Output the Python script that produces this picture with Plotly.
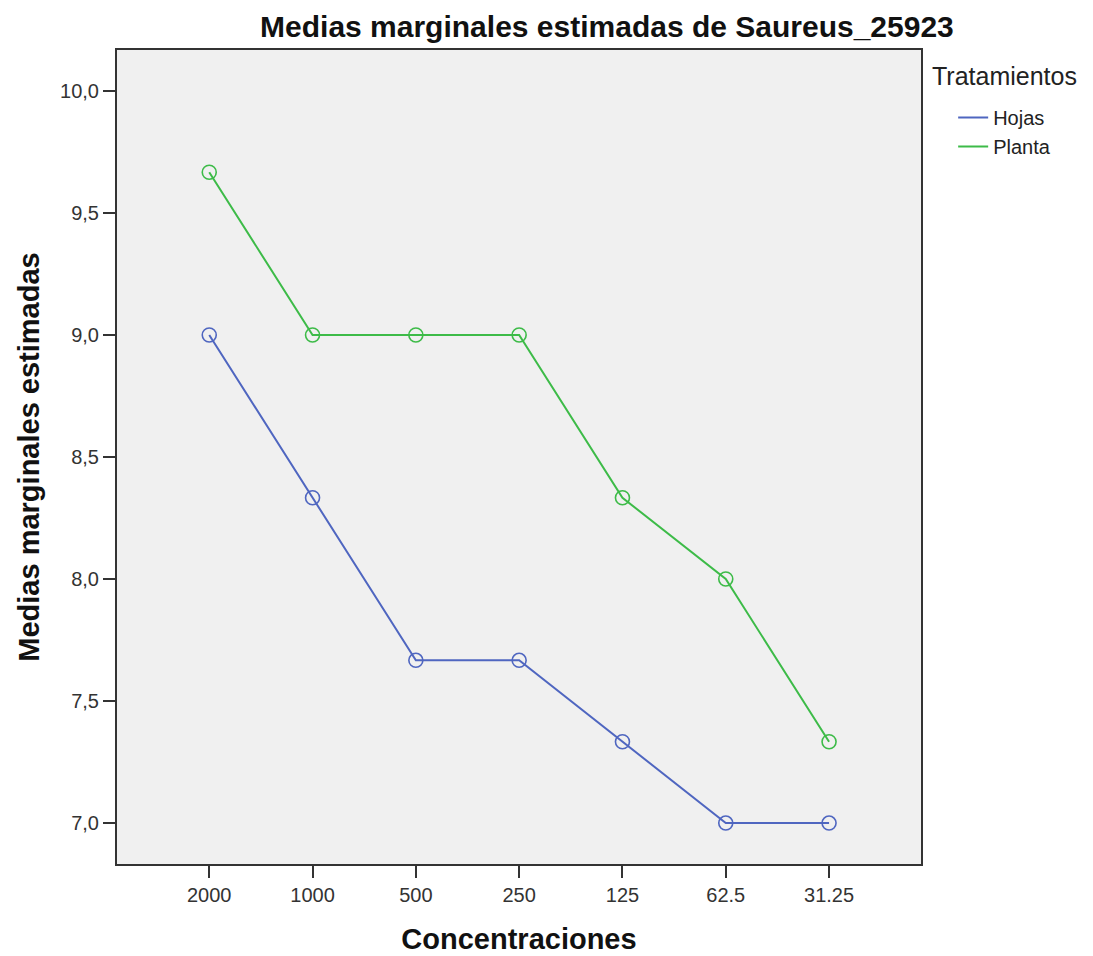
import plotly.graph_objects as go

# Datos
concentraciones = ["2000", "1000", "500", "250", "125", "62.5", "31.25"]
hojas = [9.0, 8.333, 7.667, 7.667, 7.333, 7.0, 7.0]
planta = [9.667, 9.0, 9.0, 9.0, 8.333, 8.0, 7.333]
y_ticks = [7.0, 7.5, 8.0, 8.5, 9.0, 9.5, 10.0]
y_tick_text = ["7,0", "7,5", "8,0", "8,5", "9,0", "9,5", "10,0"]

AZUL = '#4f66c0'
VERDE = '#3dbb48'
FUENTE = 'Liberation Sans, Arial, sans-serif'


def agregar_serie(fig, y, nombre, color):
    """Línea (con leyenda) + círculos abiertos (sin leyenda)"""
    x = list(range(len(concentraciones)))
    fig.add_trace(go.Scatter(
        x=x, y=y, name=nombre, mode='lines',
        line=dict(color=color, width=2),
    ))
    fig.add_trace(go.Scatter(
        x=x, y=y, name=nombre, mode='markers', showlegend=False,
        marker=dict(symbol='circle-open', size=14, color=color, line=dict(width=1.6)),
    ))


fig = go.Figure()
agregar_serie(fig, hojas, 'Hojas', AZUL)
agregar_serie(fig, planta, 'Planta', VERDE)

fig.add_annotation(
    text='Tratamientos', xref='paper', yref='paper',
    x=(922 - 109) / 804, xanchor='left',
    y=1 + (42 - 68) / 814, yanchor='middle',
    showarrow=False, font=dict(size=25, color='#222'),
)

fig.update_layout(
    width=1085,
    height=948,
    margin=dict(l=109, r=172, t=42, b=92),
    paper_bgcolor='white',
    plot_bgcolor='#f0f0f0',
    font=dict(family=FUENTE, color='#222'),
    title=dict(
        text='<b>Medias marginales estimadas de Saureus_25923</b>',
        x=0.552, xanchor='center', y=0.981, yanchor='middle',
        font=dict(size=30, color='#111'),
    ),
    legend=dict(
        x=1.04, xanchor='left', y=0.941, yanchor='top',
        font=dict(size=20, color='#222'),
        bgcolor='rgba(0,0,0,0)',
        tracegroupgap=0,
        itemwidth=30,
    ),
    xaxis=dict(
        range=[-0.893, 6.89],
        tickvals=list(range(len(concentraciones))),
        ticktext=concentraciones,
        ticks='outside', ticklen=12, tickwidth=2, tickcolor='#333',
        showline=True, linecolor='#333', linewidth=2, mirror=True,
        showgrid=False, zeroline=False, automargin=False,
        tickfont=dict(size=20, color='#333'),
        title=dict(text='<b>Concentraciones</b>', font=dict(size=29, color='#111'), standoff=24),
    ),
    yaxis=dict(
        range=[6.832, 10.168],
        tickvals=y_ticks,
        ticktext=y_tick_text,
        ticks='outside', ticklen=12, tickwidth=2, tickcolor='#333',
        showline=True, linecolor='#333', linewidth=2, mirror=True,
        showgrid=False, zeroline=False, automargin=False,
        tickfont=dict(size=20, color='#333'),
        title=dict(text='<b>Medias marginales estimadas</b>', font=dict(size=29, color='#111'), standoff=12),
    ),
)

fig.write_html("out.html")
